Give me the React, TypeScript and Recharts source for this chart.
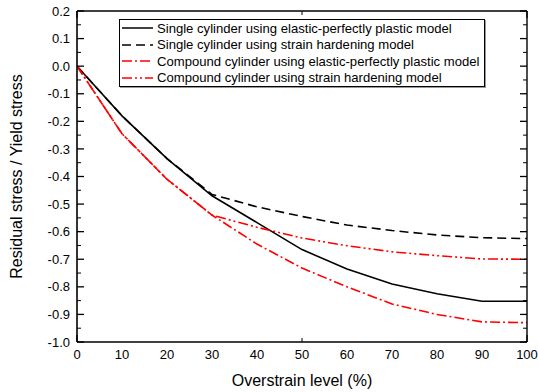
import React from 'react';
import { LineChart, Line, XAxis, YAxis, Legend } from 'recharts';

// Overstrain level (%)
const overstrain = [0, 10, 20, 30, 40, 50, 60, 70, 80, 90, 100];
// Residual stress / Yield stress
const singlePlastic = [0, -0.18, -0.335, -0.47, -0.567, -0.665, -0.735, -0.79, -0.825, -0.852, -0.852];
const singleHardening = [0, -0.18, -0.335, -0.465, -0.51, -0.545, -0.576, -0.596, -0.612, -0.622, -0.625];
const compoundPlastic = [0, -0.245, -0.41, -0.54, -0.645, -0.732, -0.8, -0.862, -0.9, -0.927, -0.93];
const compoundHardening = [0, -0.245, -0.41, -0.54, -0.584, -0.623, -0.651, -0.673, -0.687, -0.699, -0.7];

const seriesNames = [
  'Single cylinder using elastic-perfectly plastic model',
  'Single cylinder using strain hardening  model',
  'Compound cylinder using elastic-perfectly plastic model',
  'Compound cylinder using strain hardening  model',
];
const seriesKeys = ['s1', 's2', 's3', 's4'];
const seriesColors = ['#000000', '#000000', '#ff0000', '#ff0000'];
const seriesDashes = ['', '9 5', '10 3 2 3', '10 3 2 3 2 3'];

const xTicks = [0, 10, 20, 30, 40, 50, 60, 70, 80, 90, 100];
const xMinorTicks = [5, 15, 25, 35, 45, 55, 65, 75, 85, 95];
const yTicks = [0.2, 0.1, 0, -0.1, -0.2, -0.3, -0.4, -0.5, -0.6, -0.7, -0.8, -0.9, -1.0];
const yMinorTicks = [0.15, 0.05, -0.05, -0.15, -0.25, -0.35, -0.45, -0.55, -0.65, -0.75, -0.85, -0.95];

const data = overstrain.map((x, i) => ({
  x,
  s1: singlePlastic[i],
  s2: singleHardening[i],
  s3: compoundPlastic[i],
  s4: compoundHardening[i],
}));

const FONT = '"Liberation Sans", Arial, Helvetica, sans-serif';

const LegendBox = () => (
  <div
    style={{
      boxSizing: 'border-box',
      width: 366,
      height: 68,
      border: '1px solid #000',
      background: '#fff',
      paddingLeft: 2,
      fontFamily: FONT,
      fontSize: 13.1,
      color: '#000',
      boxShadow: '1px 1px 0 #999',
      overflow: 'visible',
    }}
  >
    {seriesNames.map((name, i) => (
      <div
        key={name}
        style={{ display: 'flex', alignItems: 'center', height: 16.5, whiteSpace: 'nowrap' }}
      >
        <svg width={31} height={8} style={{ marginRight: 4, flex: 'none' }}>
          <line
            x1={0}
            y1={4}
            x2={31}
            y2={4}
            stroke={seriesColors[i]}
            strokeWidth={1.5}
            strokeDasharray={seriesDashes[i] || undefined}
          />
        </svg>
        <span>{name}</span>
      </div>
    ))}
  </div>
);

// Inward tick mark drawn at the axis position (mirrored axis, tickSize 0, tickMargin 0)
const TickMark = (props: any) => {
  const { x, y, payload, side, majors } = props;
  const isMajor = majors.some((m: number) => Math.abs(m - payload.value) < 1e-9);
  const len = isMajor ? 7 : 4;
  let x2 = x;
  let y2 = y;
  if (side === 'bottom') y2 = y - len;
  if (side === 'top') y2 = y + len;
  if (side === 'left') x2 = x + len;
  if (side === 'right') x2 = x - len;
  return <line x1={x} y1={y} x2={x2} y2={y2} stroke="#000" strokeWidth={isMajor ? 1.3 : 1} />;
};

const allXTicks = [...xTicks, ...xMinorTicks];
const allYTicks = [...yTicks, ...yMinorTicks];

export default function App() {
  const tickStyle = { fill: '#000', fontSize: 13, fontFamily: FONT };
  const common = {
    type: 'number' as const,
    interval: 0,
    allowDataOverflow: true,
    mirror: true,
    tickSize: 0,
    tickMargin: 0,
    tickLine: false,
  };
  const frame = { stroke: '#000', strokeWidth: 1.4 };
  return (
    <div style={{ position: 'absolute', left: 0, top: 0 }}>
      <LineChart
        width={538}
        height={392}
        data={data}
        margin={{ top: 11, right: 11, bottom: 0, left: 0 }}
      >
        {/* main labelled axes */}
        <XAxis
          dataKey="x"
          type="number"
          domain={[0, 100]}
          ticks={xTicks}
          interval={0}
          allowDataOverflow
          height={50}
          tickLine={false}
          tickSize={6}
          tickMargin={2}
          axisLine={{ stroke: '#000', strokeWidth: 1.6 }}
          tick={tickStyle}
          label={{
            value: 'Overstrain level (%)',
            position: 'insideBottom',
            offset: 6,
            style: { fill: '#000', fontSize: 16, fontFamily: FONT },
          }}
        />
        <YAxis
          type="number"
          domain={[-1, 0.2]}
          ticks={yTicks}
          interval={0}
          allowDataOverflow
          width={77}
          tickLine={false}
          tickSize={5}
          tickMargin={2}
          axisLine={{ stroke: '#000', strokeWidth: 1.6 }}
          tick={tickStyle}
          tickFormatter={(v: number) => v.toFixed(1)}
          label={{
            value: 'Residual stress / Yield stress',
            angle: -90,
            position: 'insideLeft',
            offset: 16,
            style: { fill: '#000', fontSize: 16, fontFamily: FONT, textAnchor: 'middle' },
          }}
        />
        {/* inward tick marks and frame */}
        <XAxis xAxisId="bTicks" {...common} domain={[0, 100]} ticks={allXTicks} axisLine={false} tick={<TickMark side="bottom" majors={xTicks} />} />
        <XAxis xAxisId="tTicks" orientation="top" {...common} domain={[0, 100]} ticks={allXTicks} axisLine={frame} tick={<TickMark side="top" majors={xTicks} />} />
        <YAxis yAxisId="lTicks" {...common} domain={[-1, 0.2]} ticks={allYTicks} axisLine={false} tick={<TickMark side="left" majors={yTicks} />} />
        <YAxis yAxisId="rTicks" orientation="right" {...common} domain={[-1, 0.2]} ticks={allYTicks} axisLine={frame} tick={<TickMark side="right" majors={yTicks} />} />

        <Legend
          layout="vertical"
          align="center"
          verticalAlign="middle"
          wrapperStyle={{ left: 119, top: 19, width: 'auto' }}
          content={<LegendBox />}
        />

        {seriesKeys.map((k, i) => (
          <Line
            key={k}
            type="linear"
            dataKey={k}
            name={seriesNames[i]}
            stroke={seriesColors[i]}
            strokeWidth={1.6}
            strokeDasharray={seriesDashes[i] || undefined}
            dot={false}
            activeDot={false}
            isAnimationActive={false}
          />
        ))}
      </LineChart>
    </div>
  );
}
